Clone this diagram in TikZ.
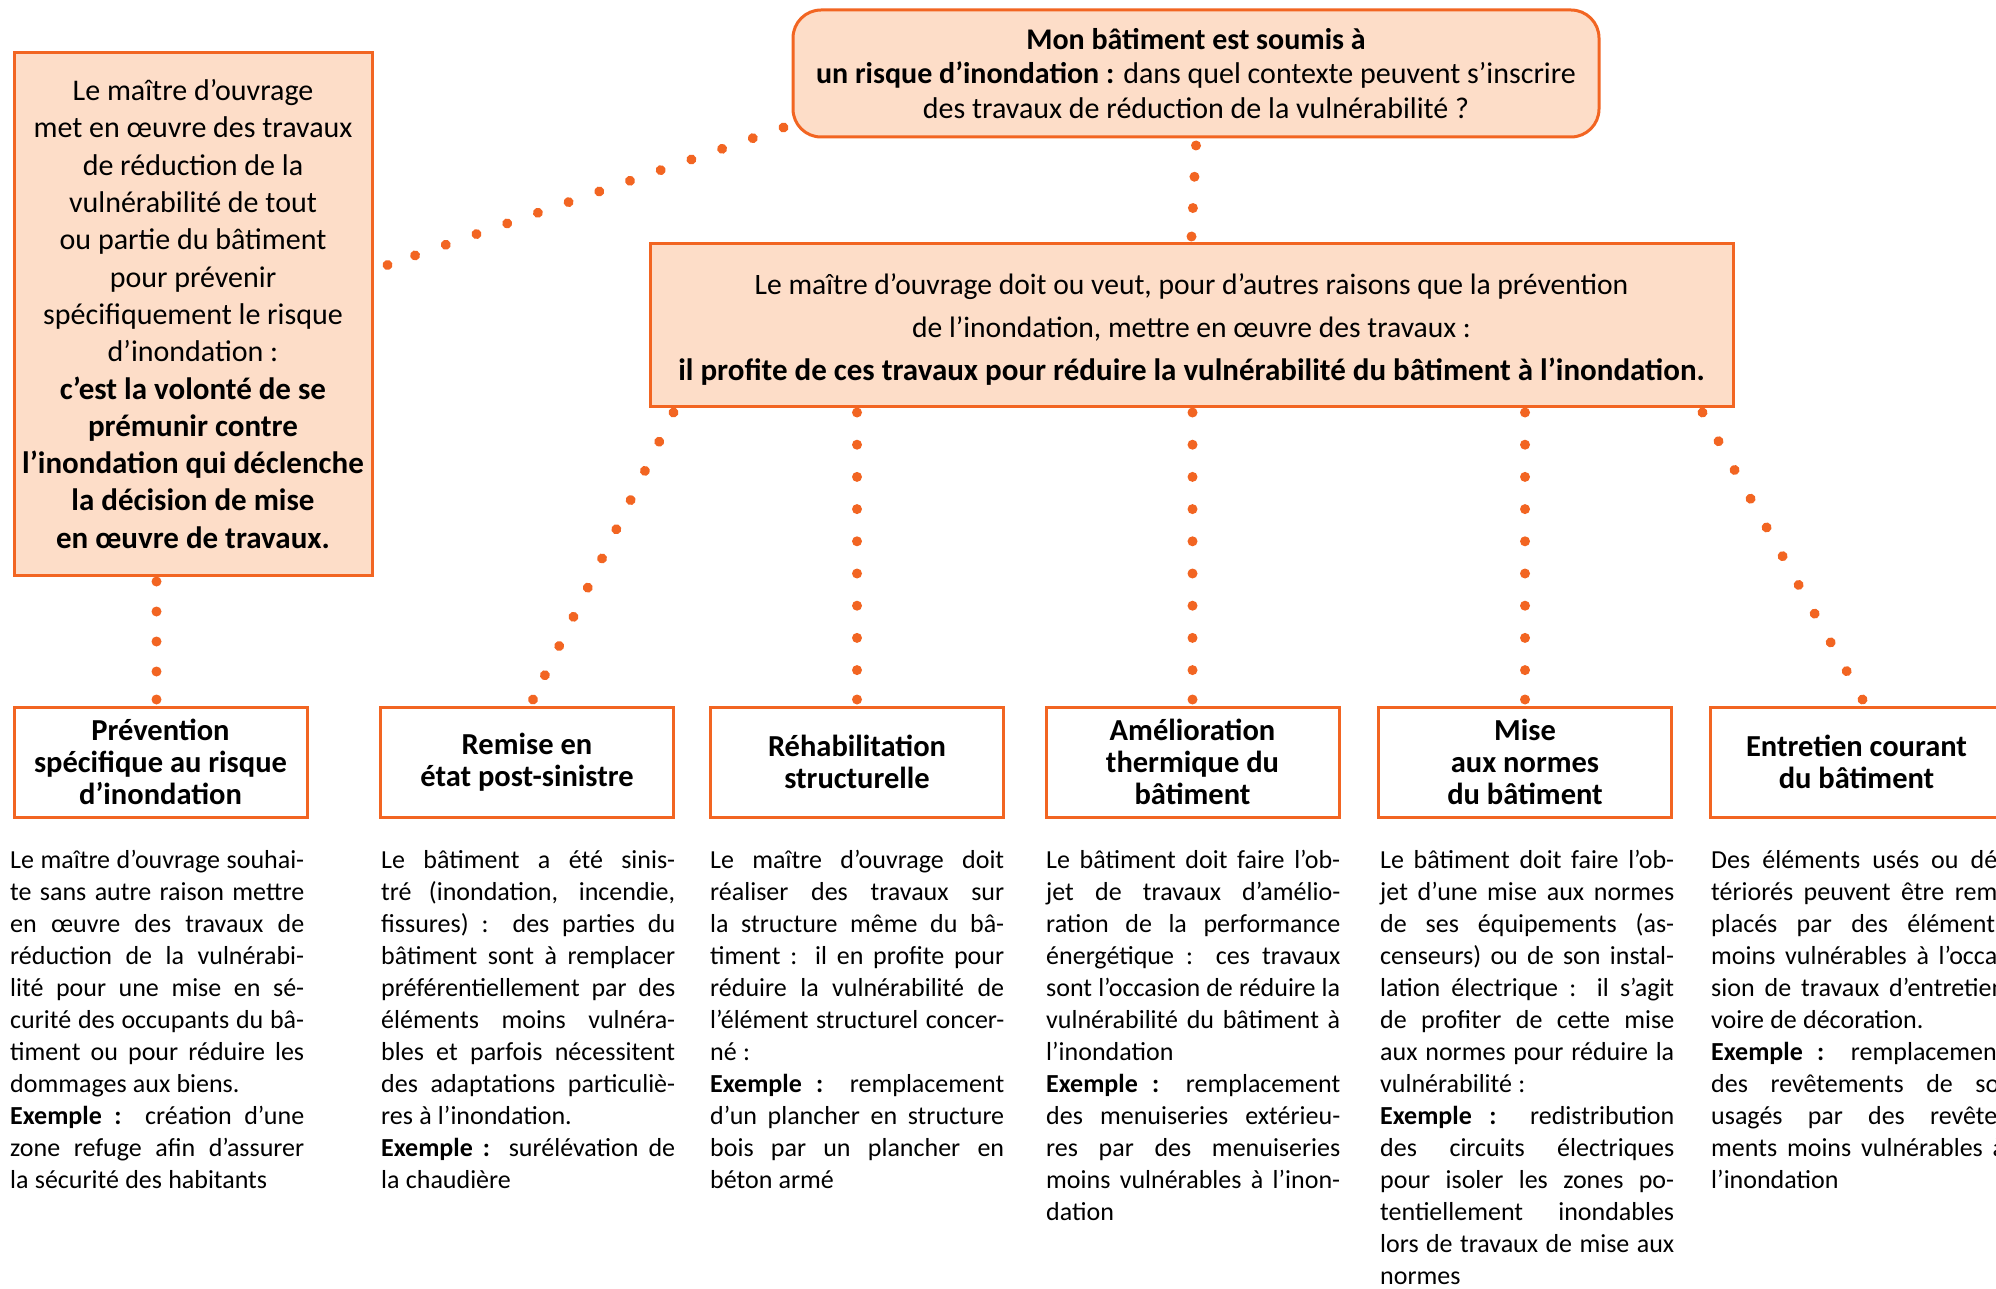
\documentclass[tikz,border=0pt]{standalone}
\usepackage{fontspec}
\setmainfont{Carlito}
\newfontfamily\bodyfont[WordSpace={0.6,2,1}]{Carlito}
\usetikzlibrary{calc,decorations.markings}
\definecolor{orng}{RGB}{242,101,34}
\definecolor{peach}{RGB}{253,221,200}
\newlength\colw \setlength\colw{294pt}
\newcommand\JL[1]{\hbox to \colw{#1}}
\newcommand\LL[1]{\hbox{\spaceskip=0.24em plus 0.1em\relax #1}}
\newcommand\Ex{\textbf{Exemple :}}
\tikzset{
  peachbox/.style={draw=orng, line width=3pt, fill=peach, inner sep=0pt, align=center},
  catbox/.style={draw=orng, line width=3pt, fill=white, inner sep=0pt, align=center,
    minimum width=293pt, minimum height=110pt, font=\bfseries\fontsize{30.5}{32}\selectfont},
  bodytxt/.style={anchor=base west, inner sep=0pt, font=\bodyfont\fontsize{26}{32}\selectfont},
  dotconn/.style={postaction={decorate}, decoration={markings,
    mark=between positions 0 and 1 step #1 with {\fill[orng] (0,0) circle (5pt);},
    mark=at position 1 with {\fill[orng] (0,0) circle (5pt);}}}
}
\begin{document}
\begin{tikzpicture}[x=1pt,y=-1pt]
\useasboundingbox (0,0) rectangle (1996,1289);
\clip (0,0) rectangle (1996,1289);
\fill[white] (0,0) rectangle (1996,1289);

% top box
\node[peachbox, rounded corners=28pt, minimum width=806pt, minimum height=127pt,
  font=\fontsize{30}{34.4}\selectfont] (top) at (1196,73.5)
  {\textbf{Mon bâtiment est soumis à}\\ \textbf{un risque d’inondation :} dans quel contexte peuvent s’inscrire\\ des travaux de réduction de la vulnérabilité ?};

% left box
\node[peachbox, minimum width=358pt, minimum height=522pt,
  font=\fontsize{30}{37.3}\selectfont] (left) at (193,314)
  {Le maître d’ouvrage\\ met en œuvre des travaux\\ de réduction de la\\ vulnérabilité de tout\\ ou partie du bâtiment\\ pour prévenir\\ spécifiquement le risque\\ d’inondation :\\ {\fontsize{31}{37.3}\selectfont\bfseries c’est la volonté de se}\\ {\fontsize{31}{37.3}\selectfont\bfseries prémunir contre}\\ {\fontsize{31}{37.3}\selectfont\bfseries l’inondation qui déclenche}\\ {\fontsize{31}{37.3}\selectfont\bfseries la décision de mise}\\ {\fontsize{31}{37.3}\selectfont\bfseries en œuvre de travaux.}};

% middle box
\node[peachbox, minimum width=1083pt, minimum height=162pt,
  font=\fontsize{29.6}{42.6}\selectfont] (mid) at (1191.5,325)
  {\rule{0pt}{30pt}Le maître d’ouvrage doit ou veut, pour d’autres raisons que la prévention\\ de l’inondation, mettre en œuvre des travaux :\\ {\fontsize{31}{42.6}\selectfont\bfseries il profite de ces travaux pour réduire la vulnérabilité du bâtiment à l’inondation.}};

% category boxes
\node[catbox] (c1) at (160.5,762) {Prévention\\spécifique au risque\\d’inondation};
\node[catbox] (c2) at (527,762) {Remise en\\état post-sinistre};
\node[catbox] (c3) at (857,762) {Réhabilitation\\structurelle};
\node[catbox] (c4) at (1192.5,762) {Amélioration\\thermique du\\bâtiment};
\node[catbox] (c5) at (1525,762) {Mise\\aux normes\\du bâtiment};
\node[catbox] (c6) at (1856.5,762) {Entretien courant\\du bâtiment};

% body texts
\node[bodytxt] (t1) at (10,868) {\vtop{%
\JL{Le maître d’ouvrage souhai-}
\JL{te sans autre raison mettre}
\JL{en œuvre des travaux de}
\JL{réduction de la vulnérabi-}
\JL{lité pour une mise en sé-}
\JL{curité des occupants du bâ-}
\JL{timent ou pour réduire les}
\LL{dommages aux biens.}
\JL{\Ex{} création d’une}
\JL{zone refuge afin d’assurer}
\LL{la sécurité des habitants}}};

\node[bodytxt] (t2) at (381,868) {\vtop{%
\JL{Le bâtiment a été sinis-}
\JL{tré (inondation, incendie,}
\JL{fissures) : des parties du}
\JL{bâtiment sont à remplacer}
\JL{préférentiellement par des}
\JL{éléments moins vulnéra-}
\JL{bles et parfois nécessitent}
\JL{des adaptations particuliè-}
\LL{res à l’inondation.}
\JL{\Ex{} surélévation de}
\LL{la chaudière}}};

\node[bodytxt] (t3) at (710,868) {\vtop{%
\JL{Le maître d’ouvrage doit}
\JL{réaliser des travaux sur}
\JL{la structure même du bâ-}
\JL{timent : il en profite pour}
\JL{réduire la vulnérabilité de}
\JL{l’élément structurel concer-}
\LL{né :}
\JL{\Ex{} remplacement}
\JL{d’un plancher en structure}
\JL{bois par un plancher en}
\LL{béton armé}}};

\node[bodytxt] (t4) at (1046,868) {\vtop{%
\JL{Le bâtiment doit faire l’ob-}
\JL{jet de travaux d’amélio-}
\JL{ration de la performance}
\JL{énergétique : ces travaux}
\JL{sont l’occasion de réduire la}
\JL{vulnérabilité du bâtiment à}
\LL{l’inondation}
\JL{\Ex{} remplacement}
\JL{des menuiseries extérieu-}
\JL{res par des menuiseries}
\JL{moins vulnérables à l’inon-}
\LL{dation}}};

\node[bodytxt] (t5) at (1380,868) {\vtop{%
\JL{Le bâtiment doit faire l’ob-}
\JL{jet d’une mise aux normes}
\JL{de ses équipements (as-}
\JL{censeurs) ou de son instal-}
\JL{lation électrique : il s’agit}
\JL{de profiter de cette mise}
\JL{aux normes pour réduire la}
\LL{vulnérabilité :}
\JL{\Ex{} redistribution}
\JL{des circuits électriques}
\JL{pour isoler les zones po-}
\JL{tentiellement inondables}
\JL{lors de travaux de mise aux}
\LL{normes}}};

\node[bodytxt] (t6) at (1711,868) {\vtop{%
\JL{Des éléments usés ou dé-}
\JL{tériorés peuvent être rem-}
\JL{placés par des éléments}
\JL{moins vulnérables à l’occa-}
\JL{sion de travaux d’entretien}
\LL{voire de décoration.}
\JL{\Ex{} remplacement}
\JL{des revêtements de sol}
\JL{usagés par des revête-}
\JL{ments moins vulnérables à}
\LL{l’inondation}}};

% dotted connectors
\coordinate (lb) at (left.south -| c1.north);
\coordinate (m3) at (mid.south -| c3.north);
\coordinate (m4) at (mid.south -| c4.north);
\coordinate (m5) at (mid.south -| c5.north);
\path[dotconn=31.3pt] ($(top.south)+(0,7)$) -- ($(mid.north)+(0,-6)$);
\path[dotconn=32.5pt] ($(top.south west)+(-8,-11)$) -- ($(left.east)+(14,-49)$);
\path[dotconn=30pt] ($(lb)+(-4,5)$) -- ($(c1.north)+(-4,-6)$);
\path[dotconn=32.5pt] ($(mid.south west)+(25,5)$) -- ($(c2.north)+(6,-6)$);
\path[dotconn=32.2pt] ($(m3)+(0,5)$) -- ($(c3.north)+(0,-6)$);
\path[dotconn=32.2pt] ($(m4)+(0,5)$) -- ($(c4.north)+(0,-6)$);
\path[dotconn=32.2pt] ($(m5)+(0,5)$) -- ($(c5.north)+(0,-6)$);
\path[dotconn=32.9pt] ($(mid.south east)+(-32,5)$) -- ($(c6.north)+(6,-6)$);
\end{tikzpicture}
\end{document}
